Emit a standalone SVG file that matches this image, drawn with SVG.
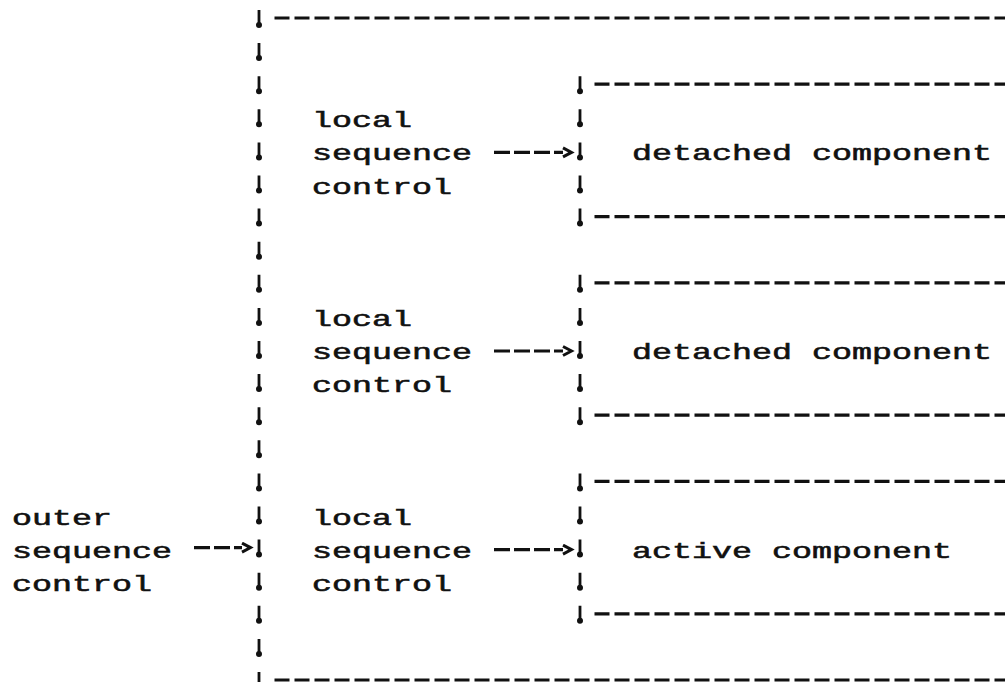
<svg xmlns="http://www.w3.org/2000/svg" width="1005" height="682" viewBox="0 0 1005 682">
<style>
.t{font-family:"Liberation Mono","DejaVu Sans Mono",monospace;font-size:21.5px;fill:#111;stroke:#111;stroke-width:0.55px}
.hd{fill:none;stroke:#111;stroke-width:3.2;stroke-dasharray:15 5}
.vs{fill:none;stroke:#111;stroke-width:2.8;stroke-dasharray:14 19.1}
.vd{fill:none;stroke:#111;stroke-width:6;stroke-linecap:round;stroke-dasharray:0 33.1}
.ar{fill:none;stroke:#111;stroke-width:3.2;stroke-dasharray:16 4}
</style>
<defs>
<marker id="chev" markerUnits="userSpaceOnUse" markerWidth="14" markerHeight="14" refX="2" refY="6" orient="auto">
<path d="M2,1.5 L10.5,6 L2,10.5" fill="none" stroke="#111" stroke-width="3" stroke-linejoin="miter"/>
</marker>
</defs>
<rect width="1005" height="682" fill="#fff"/>

<g id="outer-box">
<line class="vs" x1="259" y1="10" x2="259" y2="700"/>
<line class="vd" x1="259" y1="25" x2="259" y2="700"/>
<line class="hd" x1="274.5" y1="18" x2="1010" y2="18"/>
<line class="hd" x1="274.5" y1="680" x2="1010" y2="680"/>
</g>

<g id="box-1">
<line class="vs" x1="580" y1="76.2" x2="580" y2="226"/>
<line class="vd" x1="580" y1="91.2" x2="580" y2="226"/>
<line class="hd" x1="594.5" y1="84.2" x2="1010" y2="84.2"/>
<line class="hd" x1="594.5" y1="216.6" x2="1010" y2="216.6"/>
<text class="t" x="632" y="160.4" textLength="360" lengthAdjust="spacingAndGlyphs">detached component</text>
</g>

<g id="box-2">
<line class="vs" x1="580" y1="274.8" x2="580" y2="425"/>
<line class="vd" x1="580" y1="289.8" x2="580" y2="425"/>
<line class="hd" x1="594.5" y1="282.8" x2="1010" y2="282.8"/>
<line class="hd" x1="594.5" y1="415.2" x2="1010" y2="415.2"/>
<text class="t" x="632" y="359" textLength="360" lengthAdjust="spacingAndGlyphs">detached component</text>
</g>

<g id="box-3">
<line class="vs" x1="580" y1="473.4" x2="580" y2="623"/>
<line class="vd" x1="580" y1="488.4" x2="580" y2="623"/>
<line class="hd" x1="594.5" y1="481.4" x2="1010" y2="481.4"/>
<line class="hd" x1="594.5" y1="613.8" x2="1010" y2="613.8"/>
<text class="t" x="632" y="557.6" textLength="320" lengthAdjust="spacingAndGlyphs">active component</text>
</g>

<g id="local-control-1">
<text class="t" x="312" y="127.3" textLength="100" lengthAdjust="spacingAndGlyphs">local</text>
<text class="t" x="312" y="160.4" textLength="160" lengthAdjust="spacingAndGlyphs">sequence</text>
<text class="t" x="312" y="193.5" textLength="140" lengthAdjust="spacingAndGlyphs">control</text>
</g>
<g id="local-control-2">
<text class="t" x="312" y="325.9" textLength="100" lengthAdjust="spacingAndGlyphs">local</text>
<text class="t" x="312" y="359" textLength="160" lengthAdjust="spacingAndGlyphs">sequence</text>
<text class="t" x="312" y="392.1" textLength="140" lengthAdjust="spacingAndGlyphs">control</text>
</g>
<g id="local-control-3">
<text class="t" x="312" y="524.5" textLength="100" lengthAdjust="spacingAndGlyphs">local</text>
<text class="t" x="312" y="557.6" textLength="160" lengthAdjust="spacingAndGlyphs">sequence</text>
<text class="t" x="312" y="590.7" textLength="140" lengthAdjust="spacingAndGlyphs">control</text>
</g>
<g id="outer-control">
<text class="t" x="12" y="524.5" textLength="100" lengthAdjust="spacingAndGlyphs">outer</text>
<text class="t" x="12" y="557.6" textLength="160" lengthAdjust="spacingAndGlyphs">sequence</text>
<text class="t" x="12" y="590.7" textLength="140" lengthAdjust="spacingAndGlyphs">control</text>
</g>

<g id="connectors">
<line class="ar" x1="494" y1="152.4" x2="563" y2="152.4" marker-end="url(#chev)"/>
<line class="ar" x1="494" y1="351" x2="563" y2="351" marker-end="url(#chev)"/>
<line class="ar" x1="494" y1="549.6" x2="563" y2="549.6" marker-end="url(#chev)"/>
<line class="ar" x1="194" y1="547.6" x2="242" y2="547.6" marker-end="url(#chev)"/>
</g>
</svg>
